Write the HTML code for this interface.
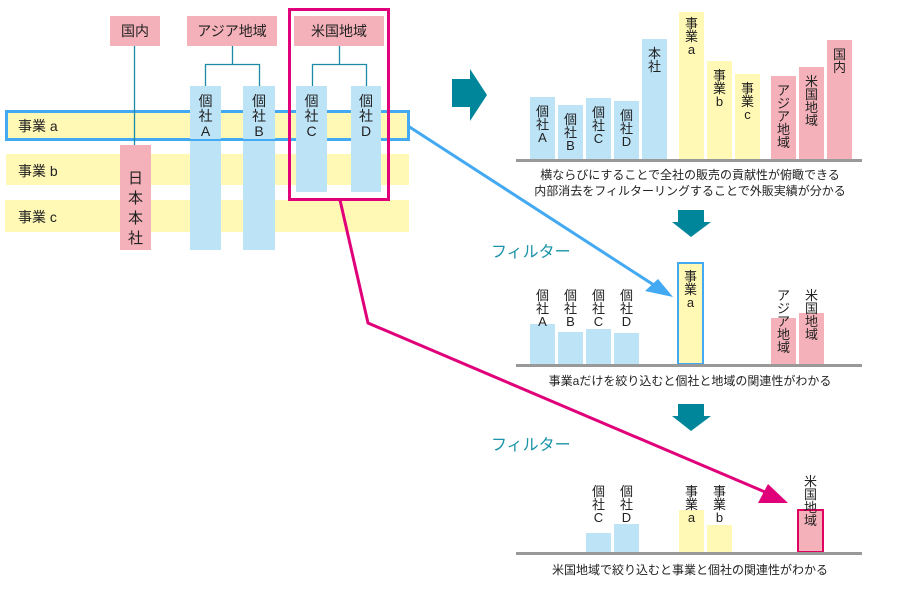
<!DOCTYPE html>
<html><head><meta charset="utf-8"><style>
body{margin:0;width:900px;height:600px;background:#fff;position:relative;overflow:hidden;font-family:"Liberation Sans","Noto Sans CJK JP",sans-serif;color:#222}
div{position:absolute;box-sizing:border-box}
.p{background:#f4b1b9}.b{background:#bde3f7}.y{background:#fff9b5}
.v{text-align:center;font-size:14px;line-height:15px}
.s{text-align:center;font-size:13px;line-height:13px}
.h{font-size:14px;text-align:center;line-height:30px}
.cap{font-size:12px;line-height:16px;text-align:center}
.base{height:3px;background:#999}
.f{color:#1a94a8;font-size:16px}
</style></head><body>
<!-- bands -->
<div class="y" style="left:6px;top:154px;width:403px;height:31px"></div>
<div class="y" style="left:5px;top:200px;width:404px;height:32px"></div>
<!-- left columns -->
<div class="p v" style="left:120px;top:145px;width:31px;height:105px;padding-top:24px;line-height:20px;font-size:15px">日<br>本<br>本<br>社</div>
<div class="b v" style="left:190px;top:86px;width:31px;height:164px;padding-top:8px">個<br>社<br>A</div>
<div class="b v" style="left:243px;top:86px;width:32px;height:164px;padding-top:8px">個<br>社<br>B</div>
<div class="y" style="left:5px;top:110px;width:405px;height:31px;border:3px solid #42a9f2"></div>
<div class="b v" style="left:190px;top:86px;width:31px;height:53px;padding-top:8px">個<br>社<br>A</div>
<div class="b v" style="left:243px;top:86px;width:32px;height:53px;padding-top:8px">個<br>社<br>B</div>
<div class="b v" style="left:296px;top:86px;width:31px;height:106px;padding-top:8px">個<br>社<br>C</div>
<div class="b v" style="left:351px;top:86px;width:30px;height:106px;padding-top:8px">個<br>社<br>D</div>
<div style="left:18px;top:116px;font-size:14px">事業 a</div>
<div style="left:18px;top:161px;font-size:14px">事業 b</div>
<div style="left:18px;top:207px;font-size:14px">事業 c</div>
<div class="p h" style="left:110px;top:16px;width:50px;height:30px">国内</div>
<div class="p h" style="left:187px;top:16px;width:90px;height:30px">アジア地域</div>
<div class="p h" style="left:294px;top:16px;width:90px;height:30px">米国地域</div>
<!-- chart 1 -->
<div class="b s" style="left:530px;top:97px;width:25px;height:63px;padding-top:8px">個<br>社<br>A</div>
<div class="b s" style="left:558px;top:105px;width:25px;height:55px;padding-top:8px">個<br>社<br>B</div>
<div class="b s" style="left:586px;top:98px;width:25px;height:62px;padding-top:8px">個<br>社<br>C</div>
<div class="b s" style="left:614px;top:101px;width:25px;height:59px;padding-top:8px">個<br>社<br>D</div>
<div class="b s" style="left:642px;top:39px;width:25px;height:121px;padding-top:8px">本<br>社</div>
<div class="y s" style="left:679px;top:12px;width:25px;height:148px;padding-top:5px">事<br>業<br>a</div>
<div class="y s" style="left:707px;top:61px;width:25px;height:99px;padding-top:8px">事<br>業<br>b</div>
<div class="y s" style="left:735px;top:74px;width:25px;height:86px;padding-top:8px">事<br>業<br>c</div>
<div class="p s" style="left:771px;top:76px;width:25px;height:84px;padding-top:8px">ア<br>ジ<br>ア<br>地<br>域</div>
<div class="p s" style="left:799px;top:67px;width:25px;height:93px;padding-top:8px">米<br>国<br>地<br>域</div>
<div class="p s" style="left:827px;top:40px;width:25px;height:120px;padding-top:8px">国<br>内</div>
<div class="base" style="left:516px;top:159px;width:346px"></div>
<div class="cap" style="left:520px;top:167px;width:340px">横ならびにすることで全社の販売の貢献性が俯瞰できる<br>内部消去をフィルターリングすることで外販実績が分かる</div>
<!-- chart 2 -->
<div class="f" style="left:491px;top:238px">フィルター</div>
<div class="b" style="left:530px;top:324px;width:25px;height:41px"></div>
<div class="b" style="left:558px;top:332px;width:25px;height:33px"></div>
<div class="b" style="left:586px;top:329px;width:25px;height:36px"></div>
<div class="b" style="left:614px;top:333px;width:25px;height:32px"></div>
<div class="s" style="left:530px;top:289px;width:25px">個<br>社<br>A</div>
<div class="s" style="left:558px;top:289px;width:25px">個<br>社<br>B</div>
<div class="s" style="left:586px;top:289px;width:25px">個<br>社<br>C</div>
<div class="s" style="left:614px;top:289px;width:25px">個<br>社<br>D</div>
<div class="y s" style="left:677px;top:262px;width:27px;height:103px;border:2px solid #42a9f2;padding-top:6px">事<br>業<br>a</div>
<div class="p" style="left:771px;top:318px;width:25px;height:47px"></div>
<div class="p" style="left:799px;top:313px;width:25px;height:52px"></div>
<div class="s" style="left:771px;top:289px;width:25px">ア<br>ジ<br>ア<br>地<br>域</div>
<div class="s" style="left:799px;top:289px;width:25px">米<br>国<br>地<br>域</div>
<div class="base" style="left:516px;top:364px;width:346px"></div>
<div class="cap" style="left:520px;top:373px;width:340px">事業aだけを絞り込むと個社と地域の関連性がわかる</div>
<!-- chart 3 -->
<div class="f" style="left:491px;top:431px">フィルター</div>
<div class="b" style="left:586px;top:533px;width:25px;height:20px"></div>
<div class="b" style="left:614px;top:524px;width:25px;height:29px"></div>
<div class="s" style="left:586px;top:485px;width:25px">個<br>社<br>C</div>
<div class="s" style="left:614px;top:485px;width:25px">個<br>社<br>D</div>
<div class="y" style="left:679px;top:510px;width:25px;height:43px"></div>
<div class="y" style="left:707px;top:525px;width:25px;height:28px"></div>
<div class="s" style="left:679px;top:485px;width:25px">事<br>業<br>a</div>
<div class="s" style="left:707px;top:485px;width:25px">事<br>業<br>b</div>
<div class="p" style="left:797px;top:509px;width:27px;height:44px;border:2px solid #e0005f"></div>
<div class="s" style="left:798px;top:475px;width:25px">米<br>国<br>地<br>域</div>
<div class="base" style="left:516px;top:552px;width:346px"></div>
<div class="cap" style="left:520px;top:562px;width:340px">米国地域で絞り込むと事業と個社の関連性がわかる</div>
<svg width="900" height="600" style="position:absolute;left:0;top:0">
<g stroke="#1a8aa6" stroke-width="1.3" fill="none">
<path d="M134.5 46V145"/>
<path d="M232.5 46V64.5H205.5V86M232.5 64.5H259.5V86"/>
<path d="M339.5 46V64.5H312.5V86M339.5 64.5H366.5V86"/>
</g>
<rect x="289.5" y="9.5" width="99" height="190" fill="none" stroke="#e0007a" stroke-width="3"/>
<path d="M408 126L660 289" stroke="#42a9f2" stroke-width="3" fill="none"/>
<path d="M673 297L645 291L658 279Z" fill="#42a9f2"/>
<path d="M340 200L368 323L772 495" stroke="#e0007a" stroke-width="3" fill="none"/>
<path d="M788 503L758 503L768 484Z" fill="#e0007a"/>
<path d="M452 79H470V69L487 95L470 121V107H452Z" fill="#00869a"/>
<path d="M678 210H704V222H711L691 237L672 222H678Z" fill="#00869a"/>
<path d="M678 404H704V416H711L691 431L672 416H678Z" fill="#00869a"/>
</svg>
</body></html>
